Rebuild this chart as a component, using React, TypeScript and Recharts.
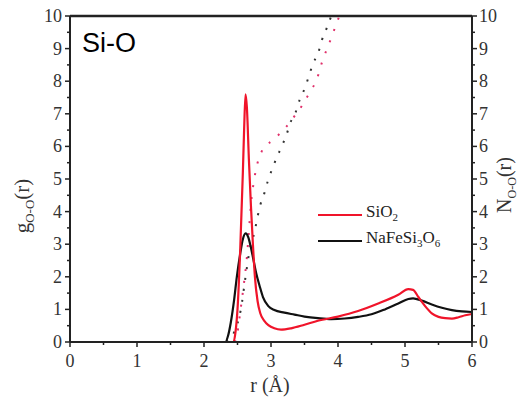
import React from 'react';
import { LineChart, Line, XAxis, YAxis, ReferenceLine } from 'recharts';

// g(r) curves
const rSiO2 = [0, 2.44, 2.47, 2.5, 2.54, 2.58, 2.6, 2.62, 2.64, 2.67, 2.7, 2.73, 2.76, 2.8, 2.84, 2.9, 2.96, 3.05, 3.15, 3.3, 3.5, 3.7, 4.0, 4.3, 4.6, 4.9, 5.05, 5.12, 5.2, 5.3, 5.4, 5.5, 5.6, 5.7, 5.8, 5.9, 6.0];
const gSiO2 = [0, 0, 0.3, 1.0, 2.8, 5.2, 6.6, 7.6, 7.2, 5.6, 4.2, 3.0, 2.0, 1.25, 0.88, 0.65, 0.52, 0.42, 0.38, 0.42, 0.53, 0.65, 0.78, 0.95, 1.18, 1.45, 1.62, 1.6, 1.38, 1.1, 0.88, 0.77, 0.73, 0.72, 0.76, 0.82, 0.86];

const rNaFe = [0, 2.32, 2.36, 2.4, 2.45, 2.49, 2.54, 2.58, 2.62, 2.66, 2.7, 2.74, 2.78, 2.83, 2.88, 2.96, 3.05, 3.2, 3.35, 3.5, 3.7, 3.9, 4.1, 4.3, 4.5, 4.7, 4.9, 5.05, 5.12, 5.25, 5.4, 5.55, 5.7, 5.85, 6.0];
const gNaFe = [0, 0, 0.2, 0.6, 1.3, 2.0, 2.7, 3.15, 3.33, 3.22, 2.9, 2.5, 2.1, 1.72, 1.38, 1.1, 0.98, 0.9, 0.84, 0.78, 0.73, 0.7, 0.72, 0.77, 0.85, 1.0, 1.18, 1.32, 1.34, 1.27, 1.15, 1.05, 0.98, 0.94, 0.92];

// running coordination numbers N(r)
const rNSiO2 = [2.46, 2.5, 2.54, 2.59, 2.64, 2.67, 2.7, 2.75, 2.8, 2.86, 3.03, 3.2, 3.34, 3.47, 3.57, 3.68, 3.78, 3.85, 3.98, 4.02];
const nSiO2 = [0, 0.3, 0.9, 1.7, 2.6, 3.4, 4.2, 5.0, 5.5, 5.84, 6.2, 6.53, 6.9, 7.27, 7.63, 8.04, 8.7, 9.06, 9.78, 10];

const rNNaFe = [2.34, 2.45, 2.55, 2.62, 2.68, 2.76, 2.8, 2.84, 2.9, 2.95, 3.01, 3.08, 3.16, 3.23, 3.29, 3.37, 3.43, 3.51, 3.57, 3.63, 3.71, 3.76, 3.83, 3.9];
const nNaFe = [0, 0.3, 1.0, 2.0, 2.8, 3.43, 3.85, 4.2, 4.56, 4.92, 5.27, 5.63, 6.0, 6.35, 6.73, 7.06, 7.44, 7.81, 8.19, 8.55, 8.9, 9.26, 9.62, 10];

const xTicks = [0, 0.5, 1, 1.5, 2, 2.5, 3, 3.5, 4, 4.5, 5, 5.5, 6];
const yTicks = [0, 0.5, 1, 1.5, 2, 2.5, 3, 3.5, 4, 4.5, 5, 5.5, 6, 6.5, 7, 7.5, 8, 8.5, 9, 9.5, 10];

const zip = (xs: number[], ys: number[], key: string) => xs.map((r, i) => ({ r, [key]: ys[i] }));

const RED = '#f0142a';
const BLACK = '#111';
const AXIS = '#222';
const SERIF = '"Liberation Serif", "Times New Roman", serif';

const isMajor = (v: number) => Number.isInteger(v);

const XTick = (p: any) => {
  const v = p.payload.value;
  const len = isMajor(v) ? 5 : 3;
  return (
    <g>
      <line x1={p.x} x2={p.x} y1={p.y} y2={p.y + len} stroke={AXIS} strokeWidth={1.5} />
      {isMajor(v) && (
        <text x={p.x} y={p.y + 25} textAnchor="middle" fontSize={18} fontFamily={SERIF} fill="#333">{v}</text>
      )}
    </g>
  );
};

const LeftTick = (p: any) => {
  const v = p.payload.value;
  const len = isMajor(v) ? 5 : 3;
  return (
    <g>
      <line x1={p.x} x2={p.x - len} y1={p.y} y2={p.y} stroke={AXIS} strokeWidth={1.5} />
      {isMajor(v) && (
        <text x={p.x - 8} y={p.y + 6} textAnchor="end" fontSize={18} fontFamily={SERIF} fill="#333">{v}</text>
      )}
    </g>
  );
};

const RightTick = (p: any) => {
  const v = p.payload.value;
  const len = isMajor(v) ? 5 : 3;
  return (
    <g>
      <line x1={p.x} x2={p.x + len} y1={p.y} y2={p.y} stroke={AXIS} strokeWidth={1.5} />
      {isMajor(v) && (
        <text x={p.x + 7} y={p.y + 6} textAnchor="start" fontSize={18} fontFamily={SERIF} fill="#333">{v}</text>
      )}
    </g>
  );
};

export default function App() {
  return (
    <div style={{ position: 'absolute', left: 0, top: 0, width: 521, height: 398, background: '#fff', overflow: 'hidden' }}>
      <LineChart width={521} height={398} margin={{ top: 16, right: 0, bottom: 0, left: 0 }}>
        <XAxis
          type="number" dataKey="r" domain={[0, 6]} ticks={xTicks} interval={0}
          height={56} tickSize={0} tickMargin={0} tickLine={false} tick={<XTick />}
          axisLine={{ stroke: AXIS, strokeWidth: 2 }} allowDataOverflow
        />
        <YAxis
          yAxisId="left" domain={[0, 10]} ticks={yTicks} interval={0} width={70}
          tickSize={0} tickMargin={0} tickLine={false} tick={<LeftTick />}
          axisLine={{ stroke: AXIS, strokeWidth: 2 }} allowDataOverflow
        />
        <YAxis
          yAxisId="right" orientation="right" domain={[0, 10]} ticks={yTicks} interval={0} width={49}
          tickSize={0} tickMargin={0} tickLine={false} tick={<RightTick />}
          axisLine={{ stroke: AXIS, strokeWidth: 2 }} allowDataOverflow
        />
        <ReferenceLine yAxisId="left" y={10} stroke={AXIS} strokeWidth={2.5} />
        <Line yAxisId="right" data={zip(rNSiO2, nSiO2, 'n')} dataKey="n" type="monotone" stroke="#e0306a"
          strokeWidth={2} strokeDasharray="2 10" dot={false} isAnimationActive={false} />
        <Line yAxisId="right" data={zip(rNNaFe, nNaFe, 'n')} dataKey="n" type="monotone" stroke="#333"
          strokeWidth={2} strokeDasharray="2 9" dot={false} isAnimationActive={false} />
        <Line yAxisId="left" data={zip(rNaFe, gNaFe, 'g')} dataKey="g" type="monotone" stroke={BLACK}
          strokeWidth={2.2} dot={false} isAnimationActive={false} />
        <Line yAxisId="left" data={zip(rSiO2, gSiO2, 'g')} dataKey="g" type="monotone" stroke={RED}
          strokeWidth={2.2} dot={false} isAnimationActive={false} />
      </LineChart>

      <div style={{ position: 'absolute', left: 82, top: 28, fontFamily: '"Liberation Sans", Arial, sans-serif', fontSize: 27, color: '#000' }}>
        Si-O
      </div>

      {/* legend */}
      <div style={{ position: 'absolute', left: 318, top: 214, width: 44, height: 2, background: RED }} />
      <div style={{ position: 'absolute', left: 366, top: 202, fontFamily: SERIF, fontSize: 17, color: '#222' }}>
        SiO<sub style={{ fontSize: 11 }}>2</sub>
      </div>
      <div style={{ position: 'absolute', left: 318, top: 240, width: 44, height: 2, background: BLACK }} />
      <div style={{ position: 'absolute', left: 366, top: 228, fontFamily: SERIF, fontSize: 17, color: '#222' }}>
        NaFeSi<sub style={{ fontSize: 11 }}>3</sub>O<sub style={{ fontSize: 11 }}>6</sub>
      </div>

      {/* axis titles */}
      <div style={{ position: 'absolute', left: 270, top: 374, transform: 'translateX(-50%)', fontFamily: SERIF, fontSize: 20, lineHeight: '22px', color: '#333', whiteSpace: 'nowrap' }}>
        r (Å)
      </div>
      <div style={{ position: 'absolute', left: 24, top: 206, transform: 'translate(-50%, -50%) rotate(-90deg)', fontFamily: SERIF, fontSize: 21, color: '#333', whiteSpace: 'nowrap' }}>
        g<sub style={{ fontSize: 13 }}>O-O</sub>(r)
      </div>
      <div style={{ position: 'absolute', left: 508, top: 185, transform: 'translate(-50%, -50%) rotate(-90deg)', fontFamily: SERIF, fontSize: 20, lineHeight: '20px', color: '#333', whiteSpace: 'nowrap' }}>
        N<sub style={{ fontSize: 12 }}>O-O</sub>(r)
      </div>
    </div>
  );
}
